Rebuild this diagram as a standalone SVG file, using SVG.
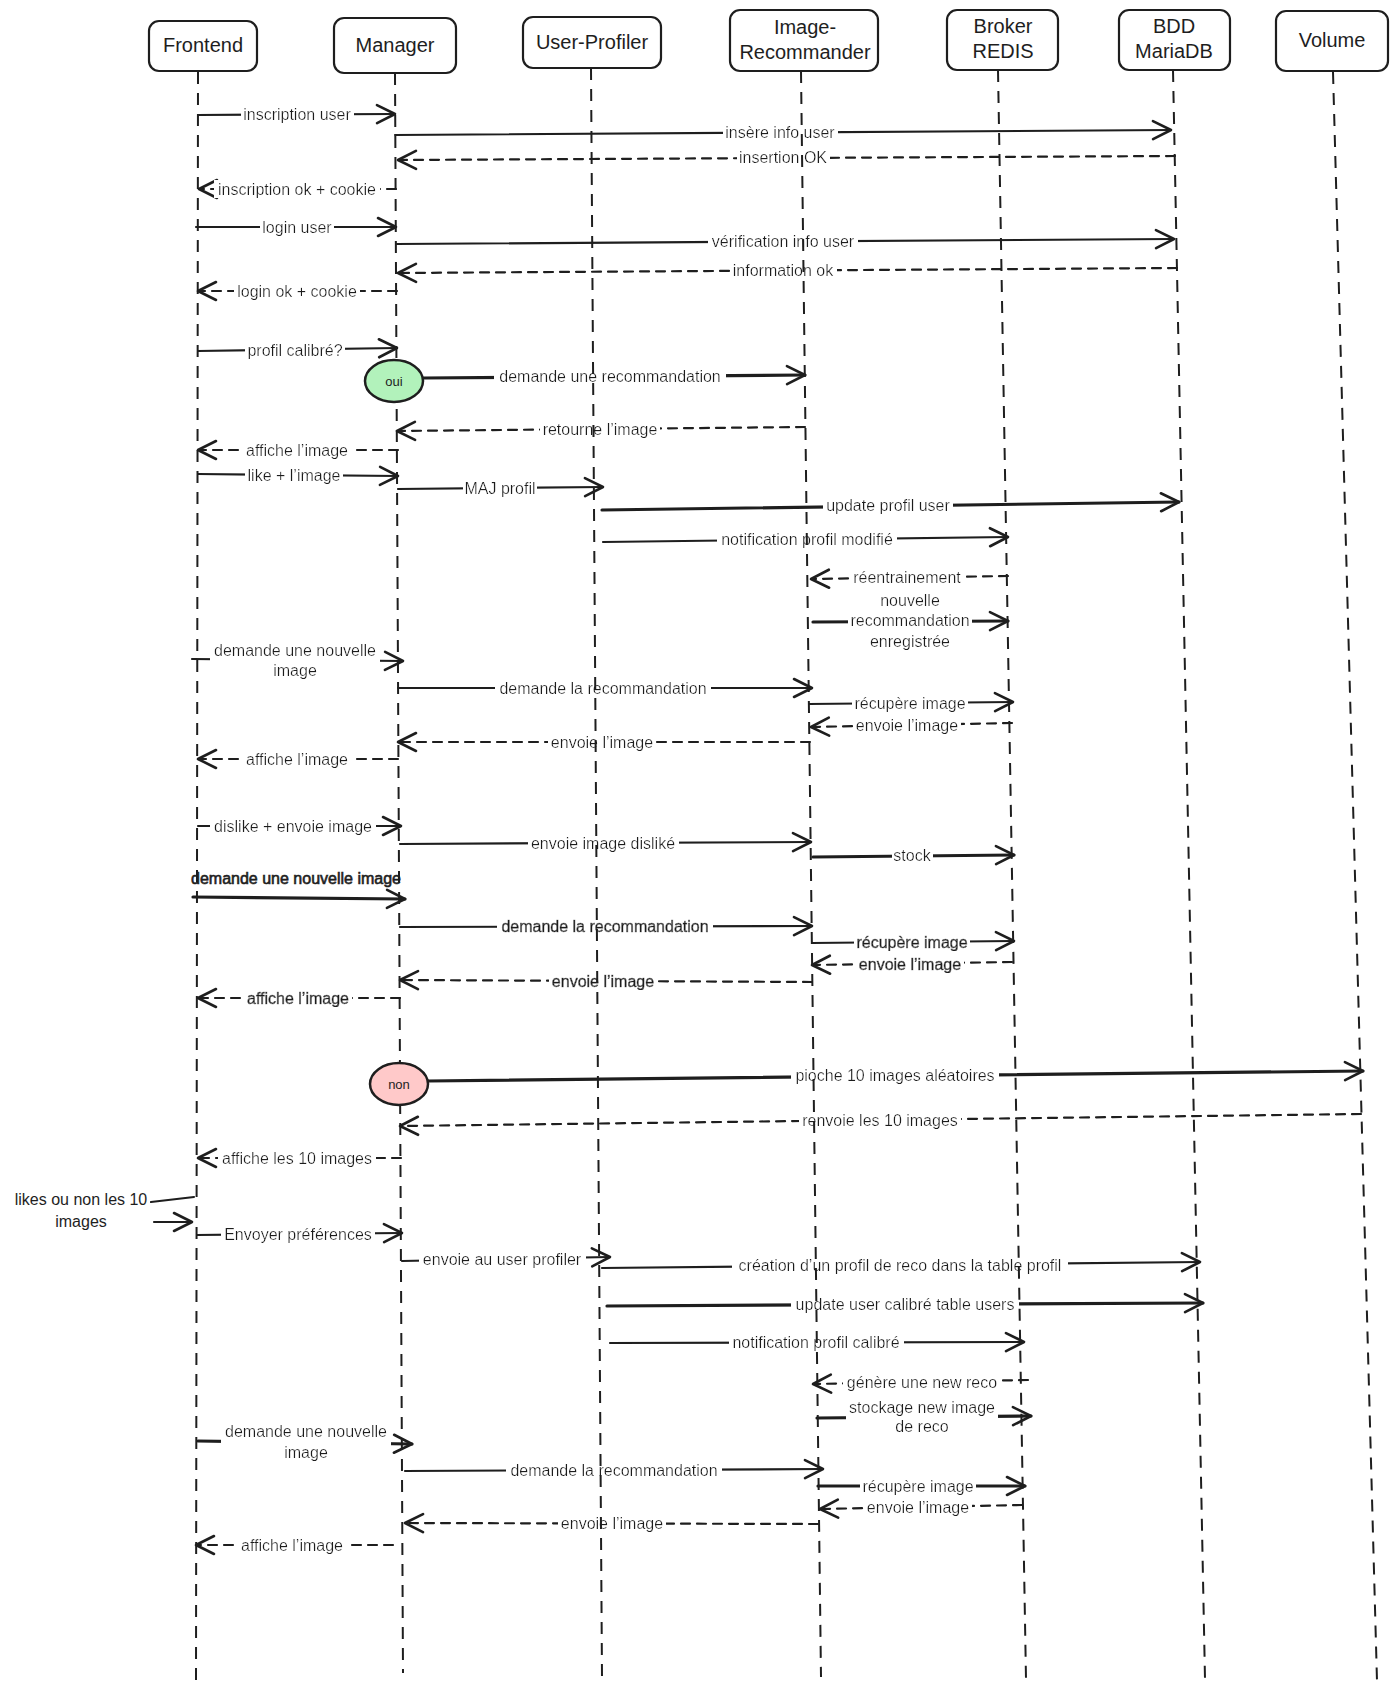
<svg xmlns="http://www.w3.org/2000/svg" width="1397" height="1694" viewBox="0 0 1397 1694">
<defs>
<style>
.box{fill:#fff;stroke:#1e1e1e;stroke-width:2.2}
.life{stroke:#1e1e1e;stroke-width:2;stroke-dasharray:12 9;fill:none}
.hd{font-family:"Liberation Sans",Arial,sans-serif;font-size:20px;fill:#1e1e1e;text-anchor:middle;dominant-baseline:central}
.lb{font-family:"Liberation Sans",Arial,sans-serif;font-size:16px;fill:#1e1e1e;text-anchor:middle;dominant-baseline:central;filter:url(#bg)}
.nb{font-family:"Liberation Sans",Arial,sans-serif;font-size:16px;fill:#1e1e1e;text-anchor:middle;dominant-baseline:central}
.sb{stroke:#1e1e1e;stroke-width:0.6}
.ct{font-family:"Liberation Sans",Arial,sans-serif;font-size:13px;fill:#1e1e1e;text-anchor:middle;dominant-baseline:central}
.m{stroke:#1e1e1e;stroke-width:2.2;fill:none;marker-end:url(#ah);stroke-linecap:round}
.p{stroke:#1e1e1e;stroke-width:2.2;fill:none;stroke-linecap:round}
.t{stroke-width:3.2}
.d{stroke-dasharray:9 7}
.oui{fill:#b2f2bb;stroke:#1e1e1e;stroke-width:2.5}
.non{fill:#ffc9c9;stroke:#1e1e1e;stroke-width:2.5}
</style>
<marker id="ah" viewBox="-22 -12 26 24" refX="0" refY="0" markerWidth="26" markerHeight="24" markerUnits="userSpaceOnUse" orient="auto" overflow="visible">
<path d="M-18,-9 L0,0 L-18,9" fill="none" stroke="#1e1e1e" stroke-width="2.6" stroke-dasharray="none" stroke-linecap="round" stroke-linejoin="round"/>
</marker>
<filter id="bg" x="-0.02" y="0" width="1.04" height="1">
<feFlood flood-color="#ffffff"/>
<feComposite in="SourceGraphic" operator="over"/>
</filter>
</defs>
<rect x="0" y="0" width="1397" height="1694" fill="#ffffff"/>

<g id="connectors">
<path class="m" d="M198,115 L395,114"/>
<text class="lb" x="297" y="114">inscription user</text>
<path class="m" d="M395,135 L1171,130"/>
<text class="lb" x="780" y="132">insère info user</text>
<path class="m d" d="M1175,156 L398,160"/>
<text class="lb" x="783" y="157">insertion OK</text>
<path class="m d" d="M396,189 L199,189"/>
<text class="lb" x="297" y="189">inscription ok + cookie</text>
<path class="m" d="M196,227 L396,227"/>
<text class="lb" x="297" y="227">login user</text>
<path class="m" d="M397,244 L1174,239"/>
<text class="lb" x="783" y="241">vérification info user</text>
<path class="m d" d="M1177,268 L398,273"/>
<text class="lb" x="783" y="270">information ok</text>
<path class="m d" d="M397,291 L198,291"/>
<text class="lb" x="297" y="291">login ok + cookie</text>
<path class="m" d="M198,351 L397,348"/>
<text class="lb" x="295" y="350">profil calibré?</text>
<path class="m t" d="M424,378 L805,375"/>
<text class="lb" x="610" y="376">demande une recommandation</text>
<path class="m d" d="M805,427 L397,431"/>
<text class="lb" x="600" y="429">retourne l’image</text>
<path class="m d" d="M398,450 L198,450"/>
<text class="lb" x="297" y="450">affiche l’image</text>
<path class="m" d="M198,474 L398,476"/>
<text class="lb" x="294" y="475">like + l’image</text>
<path class="m" d="M398,489 L603,487"/>
<text class="lb" x="500" y="488">MAJ profil</text>
<path class="m t" d="M602,510 L1179,502"/>
<text class="lb" x="888" y="505">update profil user</text>
<path class="m" d="M603,542 L1008,537"/>
<text class="lb" x="807" y="539">notification profil modifié</text>
<path class="m d" d="M1008,576 L811,579"/>
<text class="lb" x="907" y="577">réentrainement</text>
<path class="m t" d="M813,622 L1008,621"/>
<text class="lb" x="910" y="620"><tspan x="910" y="600">nouvelle</tspan><tspan x="910" y="620">recommandation</tspan><tspan x="910" y="641">enregistrée</tspan></text>
<path class="m" d="M192,659 L403,661"/>
<text class="lb" x="295" y="660"><tspan x="295" y="650">demande une nouvelle</tspan><tspan x="295" y="670">image</tspan></text>
<path class="m" d="M398,688 L812,688"/>
<text class="lb" x="603" y="688">demande la recommandation</text>
<path class="m" d="M809,704 L1013,702"/>
<text class="lb" x="910" y="703">récupère image</text>
<path class="m d" d="M1012,723 L811,727"/>
<text class="lb" x="907" y="725">envoie l’image</text>
<path class="m d" d="M810,742 L398,742"/>
<text class="lb" x="602" y="742">envoie l’image</text>
<path class="m d" d="M398,759 L198,759"/>
<text class="lb" x="297" y="759">affiche l’image</text>
<path class="m" d="M198,826 L401,826"/>
<text class="lb" x="293" y="826">dislike + envoie image</text>
<path class="m" d="M400,844 L811,842"/>
<text class="lb" x="603" y="843">envoie image disliké</text>
<path class="m t" d="M813,857 L1014,855"/>
<text class="lb" x="912" y="855">stock</text>
<path class="m t" d="M193,897 L405,899"/>
<text class="nb sb" x="296" y="878">demande une nouvelle image</text>
<path class="m" d="M400,927 L812,926"/>
<text class="lb sb" x="605" y="926">demande la recommandation</text>
<path class="m" d="M812,943 L1014,941"/>
<text class="lb sb" x="912" y="942">récupère image</text>
<path class="m d" d="M1012,962 L812,965"/>
<text class="lb sb" x="910" y="964">envoie l’image</text>
<path class="m d" d="M812,982 L400,980"/>
<text class="lb sb" x="603" y="981">envoie l’image</text>
<path class="m d" d="M400,998 L198,998"/>
<text class="lb sb" x="298" y="998">affiche l’image</text>
<path class="m t" d="M428,1081 L1363,1071"/>
<text class="lb" x="895" y="1075">pioche 10 images aléatoires</text>
<path class="m d" d="M1361,1114 L400,1126"/>
<text class="lb" x="880" y="1120">renvoie les 10 images</text>
<path class="m d" d="M401,1158 L198,1158"/>
<text class="lb" x="297" y="1158">affiche les 10 images</text>
<path class="p" d="M151,1202 L194,1197"/>
<path class="m" d="M154,1222 L192,1222"/>
<text class="nb" x="81" y="1210"><tspan x="81" y="1199">likes ou non les 10</tspan><tspan x="81" y="1221">images</tspan></text>
<path class="m" d="M197,1235 L402,1233"/>
<text class="lb" x="298" y="1234">Envoyer préférences</text>
<path class="m" d="M402,1261 L610,1257"/>
<text class="lb" x="502" y="1259">envoie au user profiler</text>
<path class="m" d="M602,1268 L1200,1262"/>
<text class="lb" x="900" y="1265">création d’un profil de reco dans la table profil</text>
<path class="m t" d="M607,1306 L1203,1303"/>
<text class="lb" x="905" y="1304">update user calibré table users</text>
<path class="m" d="M610,1343 L1024,1342"/>
<text class="lb" x="816" y="1342">notification profil calibré</text>
<path class="m d" d="M1028,1380 L813,1384"/>
<text class="lb" x="922" y="1382">génère une new reco</text>
<path class="m t" d="M817,1418 L1031,1416"/>
<text class="lb" x="922" y="1416"><tspan x="922" y="1407">stockage new image</tspan><tspan x="922" y="1426">de reco</tspan></text>
<path class="m t" d="M198,1441 L412,1444"/>
<text class="lb" x="306" y="1442"><tspan x="306" y="1431">demande une nouvelle</tspan><tspan x="306" y="1452">image</tspan></text>
<path class="m" d="M405,1471 L823,1469"/>
<text class="lb" x="614" y="1470">demande la recommandation</text>
<path class="m t" d="M818,1486 L1025,1486"/>
<text class="lb" x="918" y="1486">récupère image</text>
<path class="m d" d="M1022,1505 L820,1509"/>
<text class="lb" x="918" y="1507">envoie l’image</text>
<path class="m d" d="M818,1524 L405,1523"/>
<text class="lb" x="612" y="1523">envoie l’image</text>
<path class="m d" d="M393,1545 L196,1545"/>
<text class="lb" x="292" y="1545">affiche l’image</text>
</g>

<g id="frontend">
<path class="life" d="M198,72 L196,1680"/>
<rect class="box" x="149" y="21" width="108" height="50" rx="10"/>
<text class="hd" x="203" y="45">Frontend</text>
</g>
<g id="manager">
<path class="life" d="M395,73 L403,1673"/>
<rect class="box" x="334" y="18" width="122" height="55" rx="10"/>
<text class="hd" x="395" y="45">Manager</text>
</g>
<g id="user-profiler">
<path class="life" d="M591,68 L602,1677"/>
<rect class="box" x="523" y="17" width="138" height="51" rx="10"/>
<text class="hd" x="592" y="42">User-Profiler</text>
</g>
<g id="image-recommander">
<path class="life" d="M801,71 L821,1677"/>
<rect class="box" x="730" y="10" width="148" height="61" rx="10"/>
<text class="hd" x="805" y="27">Image-</text>
<text class="hd" x="805" y="52">Recommander</text>
</g>
<g id="broker-redis">
<path class="life" d="M998,70 L1026,1679"/>
<rect class="box" x="947" y="10" width="111" height="60" rx="10"/>
<text class="hd" x="1003" y="26">Broker</text>
<text class="hd" x="1003" y="51">REDIS</text>
</g>
<g id="bdd-mariadb">
<path class="life" d="M1173,70 L1205,1679"/>
<rect class="box" x="1119" y="10" width="111" height="60" rx="10"/>
<text class="hd" x="1174" y="26">BDD</text>
<text class="hd" x="1174" y="51">MariaDB</text>
</g>
<g id="volume">
<path class="life" d="M1333,72 L1377,1681"/>
<rect class="box" x="1276" y="11" width="112" height="60" rx="10"/>
<text class="hd" x="1332" y="40">Volume</text>
</g>
<g id="oui">
<ellipse class="oui" cx="394" cy="381" rx="29" ry="21"/>
<text class="ct" x="394" y="381">oui</text>
</g>
<g id="non">
<ellipse class="non" cx="399" cy="1084" rx="29" ry="21"/>
<text class="ct" x="399" y="1084">non</text>
</g>
</svg>
